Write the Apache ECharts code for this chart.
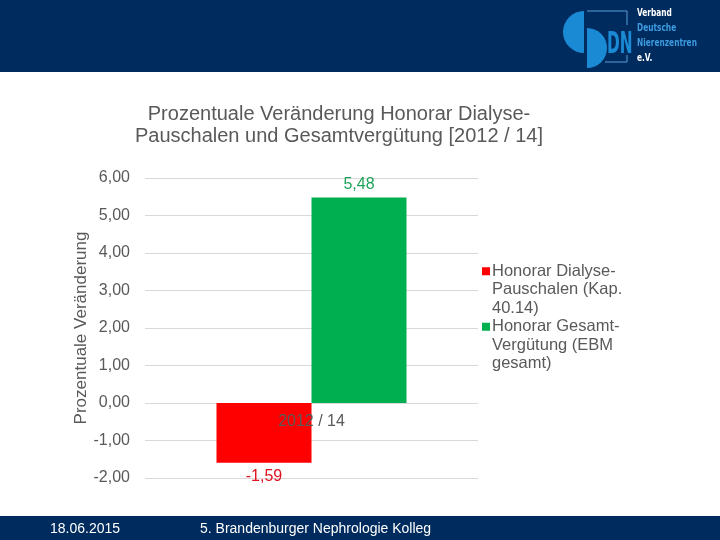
<!DOCTYPE html>
<html>
<head>
<meta charset="utf-8">
<script src="https://cdn.jsdelivr.net/npm/echarts@6/dist/echarts.min.js"></script>
<style>
html,body{margin:0;padding:0;background:#fff;}
#chart{width:720px;height:540px;}
</style>
</head>
<body>
<div id="chart"></div>
<script>
var categories = ['2012 / 14'];
var seriesNames = ['Honorar Dialyse-Pauschalen (Kap. 40.14)', 'Honorar Gesamt-Vergütung (EBM gesamt)'];
var legendLines = ['Honorar Dialyse-\nPauschalen (Kap.\n40.14)', 'Honorar Gesamt-\nVergütung (EBM\ngesamt)'];
var dialyseValues = [-1.59];
var gesamtValues = [5.48];
var seriesColors = ['#ff0000', '#00b050'];
var labelColors = ['#e0121f', '#1fa45a'];

function komma(v, n){
    return v.toFixed(n).replace('.', ',');
}

// small square at the top of a tall legend box, so it lines up with the first text line
var legendIcon = 'path://M0,5H8V13H0Z M0,0h0.01v0.01h-0.01Z M0,55h0.01v0.01h-0.01Z';

var myChart = echarts.init(document.getElementById('chart'));

option = {
    backgroundColor: '#ffffff',
    animation: false,
    title: {
        text: 'Prozentuale Veränderung Honorar Dialyse-\nPauschalen und Gesamtvergütung [2012 / 14]',
        left: 334,
        top: 98,
        textAlign: 'center',
        textStyle: {
            color: '#595959',
            fontFamily: 'Liberation Sans',
            fontSize: 20,
            fontWeight: 'normal',
            lineHeight: 22
        }
    },
    legend: {
        orient: 'vertical',
        left: 477,
        top: 257,
        itemWidth: 8,
        itemHeight: 55,
        itemGap: 0,
        icon: legendIcon,
        data: seriesNames,
        formatter: function(name){
            return legendLines[seriesNames.indexOf(name)];
        },
        textStyle: {
            color: '#595959',
            fontFamily: 'Liberation Sans',
            fontSize: 16.5,
            lineHeight: 18.5,
            padding: [0, 0, 0, -3]
        }
    },
    grid: {
        left: 145,
        right: 242,
        top: 178,
        bottom: 62
    },
    xAxis: {
        type: 'category',
        data: categories,
        // axis sits on the zero line (75 px above the bottom of the grid)
        offset: -75,
        axisLine: {show: false, onZero: false},
        axisTick: {show: false},
        axisLabel: {
            color: '#595959',
            fontFamily: 'Liberation Sans',
            fontSize: 16,
            margin: 11
        },
        z: 10
    },
    yAxis: {
        type: 'value',
        min: -2,
        max: 6,
        interval: 1,
        name: 'Prozentuale Veränderung',
        nameLocation: 'middle',
        nameGap: 51,
        nameTextStyle: {
            color: '#595959',
            fontFamily: 'Liberation Sans',
            fontSize: 17
        },
        axisLine: {show: false},
        axisTick: {show: false},
        axisLabel: {
            color: '#595959',
            fontFamily: 'Liberation Sans',
            fontSize: 16,
            margin: 15,
            formatter: function(v){ return komma(v, 2); }
        },
        splitLine: {lineStyle: {color: '#d9d9d9', width: 1}}
    },
    series: [
        {
            name: seriesNames[0],
            type: 'bar',
            data: dialyseValues,
            barWidth: 95,
            barGap: '0%',
            itemStyle: {color: seriesColors[0]},
            label: {
                show: true,
                position: 'bottom',
                distance: 6,
                color: labelColors[0],
                fontFamily: 'Liberation Sans',
                fontSize: 16,
                formatter: function(p){ return komma(p.value, 2); }
            }
        },
        {
            name: seriesNames[1],
            type: 'bar',
            data: gesamtValues,
            barWidth: 95,
            barGap: '0%',
            itemStyle: {color: seriesColors[1]},
            label: {
                show: true,
                position: 'top',
                distance: 5,
                color: labelColors[1],
                fontFamily: 'Liberation Sans',
                fontSize: 16,
                formatter: function(p){ return komma(p.value, 2); }
            }
        }
    ],
    graphic: [
        {type: 'rect', left: 0, top: 0, shape: {width: 720, height: 72}, style: {fill: '#002b5e'}, z: 0},
        {type: 'rect', left: 0, top: 516, shape: {width: 720, height: 24}, style: {fill: '#002b5e'}, z: 0},
        {type: 'text', left: 50, top: 522, style: {text: '18.06.2015', fill: '#ffffff', font: '14px "Liberation Sans"'}},
        {type: 'text', left: 200, top: 522, style: {text: '5. Brandenburger Nephrologie Kolleg', fill: '#ffffff', font: '14px "Liberation Sans"'}},
        // logo
        {type: 'sector', shape: {cx: 584, cy: 32, r: 21, startAngle: Math.PI * 0.5, endAngle: Math.PI * 1.5}, style: {fill: '#1a8ad4'}},
        {type: 'sector', shape: {cx: 587, cy: 48, r: 20, startAngle: -Math.PI * 0.5, endAngle: Math.PI * 0.5}, style: {fill: '#1a8ad4'}},
        {type: 'polyline', shape: {points: [[587, 11], [627, 11], [627, 25]]}, style: {stroke: '#5a9fd8', lineWidth: 1, fill: null}},
        {type: 'polyline', shape: {points: [[605, 62], [627, 62], [627, 55]]}, style: {stroke: '#5a9fd8', lineWidth: 1, fill: null}},
        {type: 'text', x: 607, y: 29, scaleX: 0.55, style: {text: 'DN', fill: '#1a8ad4', font: 'bold 31px "DejaVu Sans Condensed"'}},
        {type: 'text', x: 637, y: 8, scaleX: 0.75, style: {text: 'Verband', fill: '#ffffff', font: 'bold 11px "DejaVu Sans Condensed"'}},
        {type: 'text', x: 637, y: 23, scaleX: 0.75, style: {text: 'Deutsche', fill: '#3d9be0', font: 'bold 11px "DejaVu Sans Condensed"'}},
        {type: 'text', x: 637, y: 38, scaleX: 0.75, style: {text: 'Nierenzentren', fill: '#3d9be0', font: 'bold 11px "DejaVu Sans Condensed"'}},
        {type: 'text', x: 637, y: 53, scaleX: 0.75, style: {text: 'e.V.', fill: '#ffffff', font: 'bold 11px "DejaVu Sans Condensed"'}}
    ]
};
myChart.setOption(option);
</script>
</body>
</html>
